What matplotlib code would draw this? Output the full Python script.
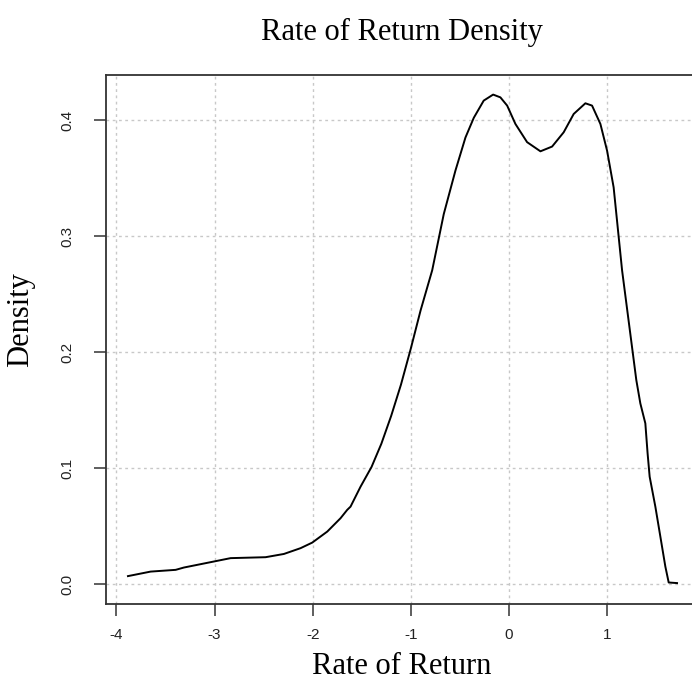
import matplotlib
matplotlib.use("Agg")
import matplotlib.pyplot as plt
import numpy as np

plt.rcParams["axes.unicode_minus"] = False

# Kernel density of the rate of return (x) and its estimated density (y)
rate = [-3.882, -3.651, -3.396, -3.312, -3.006, -2.836, -2.48, -2.293, -2.123,
        -2.004, -1.851, -1.716, -1.648, -1.614, -1.512, -1.4, -1.3, -1.2, -1.1,
        -1.0, -0.9, -0.782, -0.664, -0.545, -0.443, -0.358, -0.257, -0.161,
        -0.087, -0.018, 0.066, 0.185, 0.321, 0.44, 0.558, 0.66, 0.779, 0.847,
        0.932, 1.0, 1.067, 1.153, 1.298, 1.339, 1.39, 1.413, 1.434, 1.492,
        1.543, 1.594, 1.628, 1.713]
density = [0.0069, 0.0108, 0.0123, 0.0143, 0.0195, 0.0224, 0.0232, 0.026, 0.031,
           0.0358, 0.0453, 0.0568, 0.064, 0.0668, 0.084, 0.101, 0.121, 0.145, 0.172,
           0.203, 0.236, 0.2705, 0.319, 0.3565, 0.385, 0.402, 0.4168, 0.422,
           0.4196, 0.4125, 0.3967, 0.381, 0.3731, 0.3772, 0.3895, 0.4053, 0.4145,
           0.4125, 0.3967, 0.3737, 0.342, 0.2705, 0.1759, 0.1558, 0.1386, 0.1127,
           0.0926, 0.0668, 0.041, 0.0151, 0.0014, 0.0009]

x_ticks = [-4, -3, -2, -1, 0, 1]
x_tick_labels = ["-4", "-3", "-2", "-1", "0", "1"]
y_ticks = [0.0, 0.1, 0.2, 0.3, 0.4]
y_tick_labels = ["0.0", "0.1", "0.2", "0.3", "0.4"]

W, H = 692, 693
fig = plt.figure(figsize=(W / 100, H / 100), dpi=100)
fig.patch.set_facecolor("white")

left, right, top, bottom = 106, 699, 75, 603.7
ax = fig.add_axes([left / W, 1 - bottom / H, (right - left) / W, (bottom - top) / H])

# axis ranges padded by 4% like base R graphics
xr = max(rate) - min(rate)
ax.set_xlim(min(rate) - 0.04 * xr, max(rate) + 0.04 * xr)
yr = max(density) - 0.0
ax.set_ylim(0.0 - 0.04 * yr, max(density) + 0.04 * yr)

ax.plot(rate, density, color="black", lw=1.4, zorder=3)

ax.set_xticks(x_ticks)
ax.set_xticklabels(x_tick_labels)
ax.set_yticks(y_ticks)
ax.set_yticklabels(y_tick_labels)
ax.grid(True, color="#c8c8c8", lw=1.0, linestyle=(0, (2, 2.5)), zorder=0)

for s in ax.spines.values():
    s.set_color("#333333")
    s.set_linewidth(1.3)

ax.tick_params(axis="both", direction="out", length=8.5, width=1.1, color="#333333",
               labelsize=11, labelcolor="#222222")
ax.tick_params(axis="x", pad=9)
ax.tick_params(axis="y", pad=14)
for lab in ax.get_xticklabels() + ax.get_yticklabels():
    lab.set_family("Liberation Sans")
for lab in ax.get_yticklabels():
    lab.set_rotation(90)
    lab.set_va("center")

serif = "Liberation Serif"
fig.text(402 / W, 1 - 32 / H, "Rate of Return Density", ha="center", va="center",
         fontsize=22, family=serif)
fig.text(402 / W, 1 - 666 / H, "Rate of Return", ha="center", va="center",
         fontsize=22, family=serif)
fig.text(21 / W, 1 - 320 / H, "Density", ha="center", va="center", rotation=90,
         fontsize=22, family=serif)

fig.savefig("out.png", dpi=100, facecolor="white")
